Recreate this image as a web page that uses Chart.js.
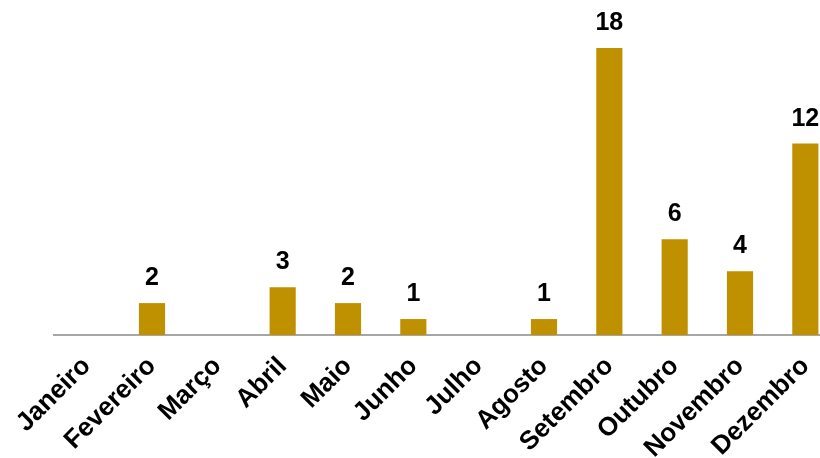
<!DOCTYPE html>
<html>
<head>
<meta charset="utf-8">
<script src="https://cdn.jsdelivr.net/npm/chart.js@4"></script>
<style>
html,body{margin:0;padding:0;background:#fff;overflow:hidden;width:820px;height:458px;}
canvas{display:block;}
</style>
</head>
<body>
<canvas id="c" width="840" height="458"></canvas>
<script>
const categories = ["Janeiro","Fevereiro","Março","Abril","Maio","Junho","Julho","Agosto","Setembro","Outubro","Novembro","Dezembro"];
const values = [0,2,0,3,2,1,0,1,18,6,4,12];
const barColor = "#BF9000";
const FONT = "'Liberation Sans', Arial, sans-serif";

const valueLabels = {
  id: 'valueLabels',
  afterDatasetsDraw(chart) {
    const ctx = chart.ctx;
    const meta = chart.getDatasetMeta(0);
    ctx.save();
    ctx.font = "bold 25px " + FONT;
    ctx.fillStyle = "#000";
    ctx.textAlign = "center";
    ctx.textBaseline = "alphabetic";
    meta.data.forEach((bar, i) => {
      const v = chart.data.datasets[0].data[i];
      if (v > 0) ctx.fillText(String(v), bar.x, bar.y - 18);
    });
    ctx.restore();
  }
};

new Chart(document.getElementById('c'), {
  type: 'bar',
  data: {
    labels: categories,
    datasets: [{
      data: values,
      backgroundColor: barColor,
      borderWidth: 0,
      categoryPercentage: 1.0,
      barPercentage: 0.4
    }]
  },
  options: {
    responsive: false,
    animation: false,
    layout: { padding: { left: 54, right: 2, top: 16, bottom: 0 } },
    plugins: { legend: { display: false }, tooltip: { enabled: false } },
    scales: {
      x: {
        grid: { display: false, drawTicks: false },
        border: { display: true, color: "#A6A6A6", width: 2 },
        ticks: {
          color: "#000",
          font: { family: FONT, size: 26, weight: "bold" },
          maxRotation: 45,
          minRotation: 45,
          padding: 16,
          autoSkip: false
        },
        afterFit(scale) {
          scale.height = 123;
          scale.paddingLeft = 0;
          scale.paddingRight = 0;
        }
      },
      y: {
        display: false,
        min: 0,
        max: 20
      }
    }
  },
  plugins: [valueLabels]
});
</script>
</body>
</html>
